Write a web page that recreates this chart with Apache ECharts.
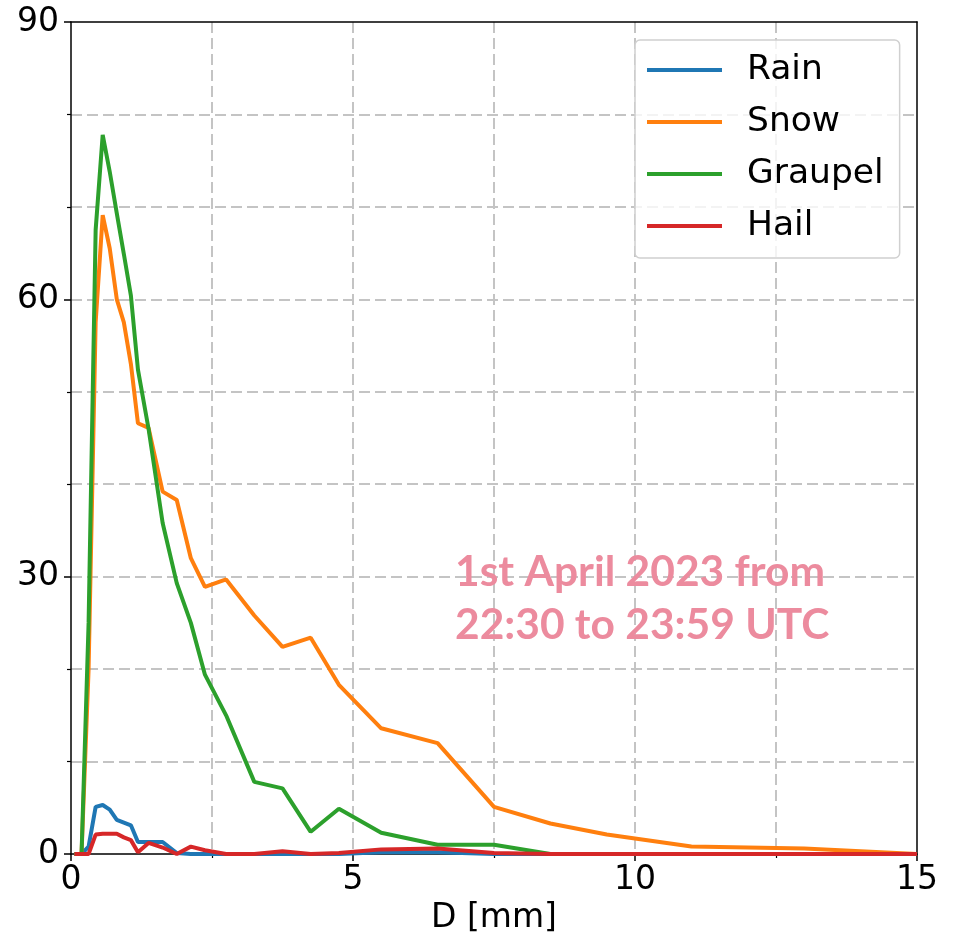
<!DOCTYPE html>
<html>
<head>
<meta charset="utf-8">
<script src="https://cdn.jsdelivr.net/npm/echarts@6/dist/echarts.min.js"></script>
<style>
  html, body { margin: 0; padding: 0; background: #fff; }
  #chart { width: 955px; height: 941px; }
</style>
</head>
<body>
<div id="chart"></div>
<script>
// diameter classes [mm]
var diam = [0.062, 0.187, 0.312, 0.437, 0.562, 0.687, 0.812, 0.937, 1.062, 1.187,
  1.375, 1.625, 1.875, 2.125, 2.375, 2.75, 3.25, 3.75, 4.25, 4.75,
  5.5, 6.5, 7.5, 8.5, 9.5, 11, 13, 15];

var rain = [0, 0, 0.8, 5.1, 5.3, 4.8, 3.7, 3.4, 3.1, 1.3,
  1.3, 1.3, 0.1, 0, 0, 0, 0, 0, 0, 0,
  0.2, 0.2, 0, 0, 0, 0, 0, 0];

var snow = [0, 0, 20, 57.5, 69.1, 65.5, 60, 57.5, 53, 46.6,
  46.1, 39.2, 38.3, 32, 28.9, 29.7, 25.8, 22.4, 23.4, 18.3,
  13.6, 12.0, 5.1, 3.3, 2.1, 0.8, 0.6, 0];

var graupel = [0, 0, 25, 67.5, 77.8, 73.8, 69.3, 64.9, 60.4, 52.4,
  46, 35.8, 29.3, 25, 19.4, 15, 7.8, 7.1, 2.4, 4.9,
  2.3, 1.0, 1.0, 0, 0, 0, 0, 0];

var hail = [0, 0, 0, 2.1, 2.2, 2.2, 2.2, 1.8, 1.5, 0.2,
  1.2, 0.7, 0, 0.8, 0.4, 0, 0, 0.3, 0, 0.1,
  0.5, 0.6, 0.1, 0, 0, 0, 0, 0];

var seriesNames = ['Rain', 'Snow', 'Graupel', 'Hail'];
var seriesValues = [rain, snow, graupel, hail];
var colors = ['#1f77b4', '#ff7f0e', '#2ca02c', '#d62728'];

var font = 'DejaVu Sans';
var gridDash = { color: '#c4c4c4', width: 2, type: [11, 5] };

var chart = echarts.init(document.getElementById('chart'));

var series = seriesNames.map(function (name, i) {
  return {
    name: name,
    type: 'line',
    data: diam.map(function (d, j) { return [d, seriesValues[i][j]]; }),
    showSymbol: false,
    symbol: 'none',
    lineStyle: { width: 4, color: colors[i] },
    itemStyle: { color: colors[i] },
    z: 3 + i,
    animation: false
  };
});

var option = {
  animation: false,
  grid: { left: 71, right: 38, top: 22, bottom: 87, containLabel: false, outerBoundsMode: 'none' },
  legend: {
    orient: 'vertical',
    left: 635,
    top: 40,
    data: seriesNames,
    icon: 'rect',
    itemWidth: 75,
    itemHeight: 4,
    itemGap: 12,
    padding: [10, 16, 12, 12],
    backgroundColor: 'rgba(255,255,255,0.8)',
    borderColor: '#d0d0d0',
    borderWidth: 1.5,
    borderRadius: 5,
    textStyle: { fontFamily: font, fontSize: 34.5, color: '#000', lineHeight: 40, padding: [0, 0, 0, 20] }
  },
  xAxis: [{
    type: 'value',
    min: 0,
    max: 15,
    interval: 5,
    name: 'D [mm]',
    nameLocation: 'middle',
    nameGap: 48,
    nameTextStyle: { fontFamily: font, fontSize: 33, color: '#000' },
    axisLine: { show: true, onZero: false, lineStyle: { color: '#000', width: 1.5 } },
    axisTick: { show: true, length: 7, lineStyle: { color: '#000', width: 1.5 } },
    minorTick: { show: true, splitNumber: 2, length: 4, lineStyle: { color: '#000', width: 1.2 } },
    axisLabel: { fontFamily: font, fontSize: 33, color: '#000', margin: 10 },
    splitLine: { show: true, showMinLine: false, showMaxLine: false, lineStyle: gridDash },
    minorSplitLine: { show: true, lineStyle: gridDash }
  }, {
    type: 'value',
    position: 'top',
    min: 0,
    max: 15,
    axisLine: { show: true, onZero: false, lineStyle: { color: '#000', width: 1.5 } },
    axisTick: { show: false },
    axisLabel: { show: false },
    splitLine: { show: false }
  }],
  yAxis: [{
    type: 'value',
    min: 0,
    max: 90,
    interval: 30,
    axisLine: { show: true, onZero: false, lineStyle: { color: '#000', width: 1.5 } },
    axisTick: { show: true, length: 7, lineStyle: { color: '#000', width: 1.5 } },
    minorTick: { show: true, splitNumber: 3, length: 4, lineStyle: { color: '#000', width: 1.2 } },
    axisLabel: { fontFamily: font, fontSize: 33, color: '#000', margin: 12 },
    splitLine: { show: true, showMinLine: false, showMaxLine: false, lineStyle: gridDash },
    minorSplitLine: { show: true, lineStyle: gridDash }
  }, {
    type: 'value',
    position: 'right',
    min: 0,
    max: 90,
    axisLine: { show: true, onZero: false, lineStyle: { color: '#000', width: 1.5 } },
    axisTick: { show: false },
    axisLabel: { show: false },
    splitLine: { show: false }
  }],
  graphic: [{
    type: 'text',
    left: 455,
    top: 546,
    z: 100,
    style: {
      text: '1st April 2023 from\n22:30 to 23:59 UTC',
      fill: '#ec8b9e',
      font: 'bold 42.5px Lato',
      lineHeight: 53
    }
  }],
  series: series
};

chart.setOption(option);
</script>
</body>
</html>
